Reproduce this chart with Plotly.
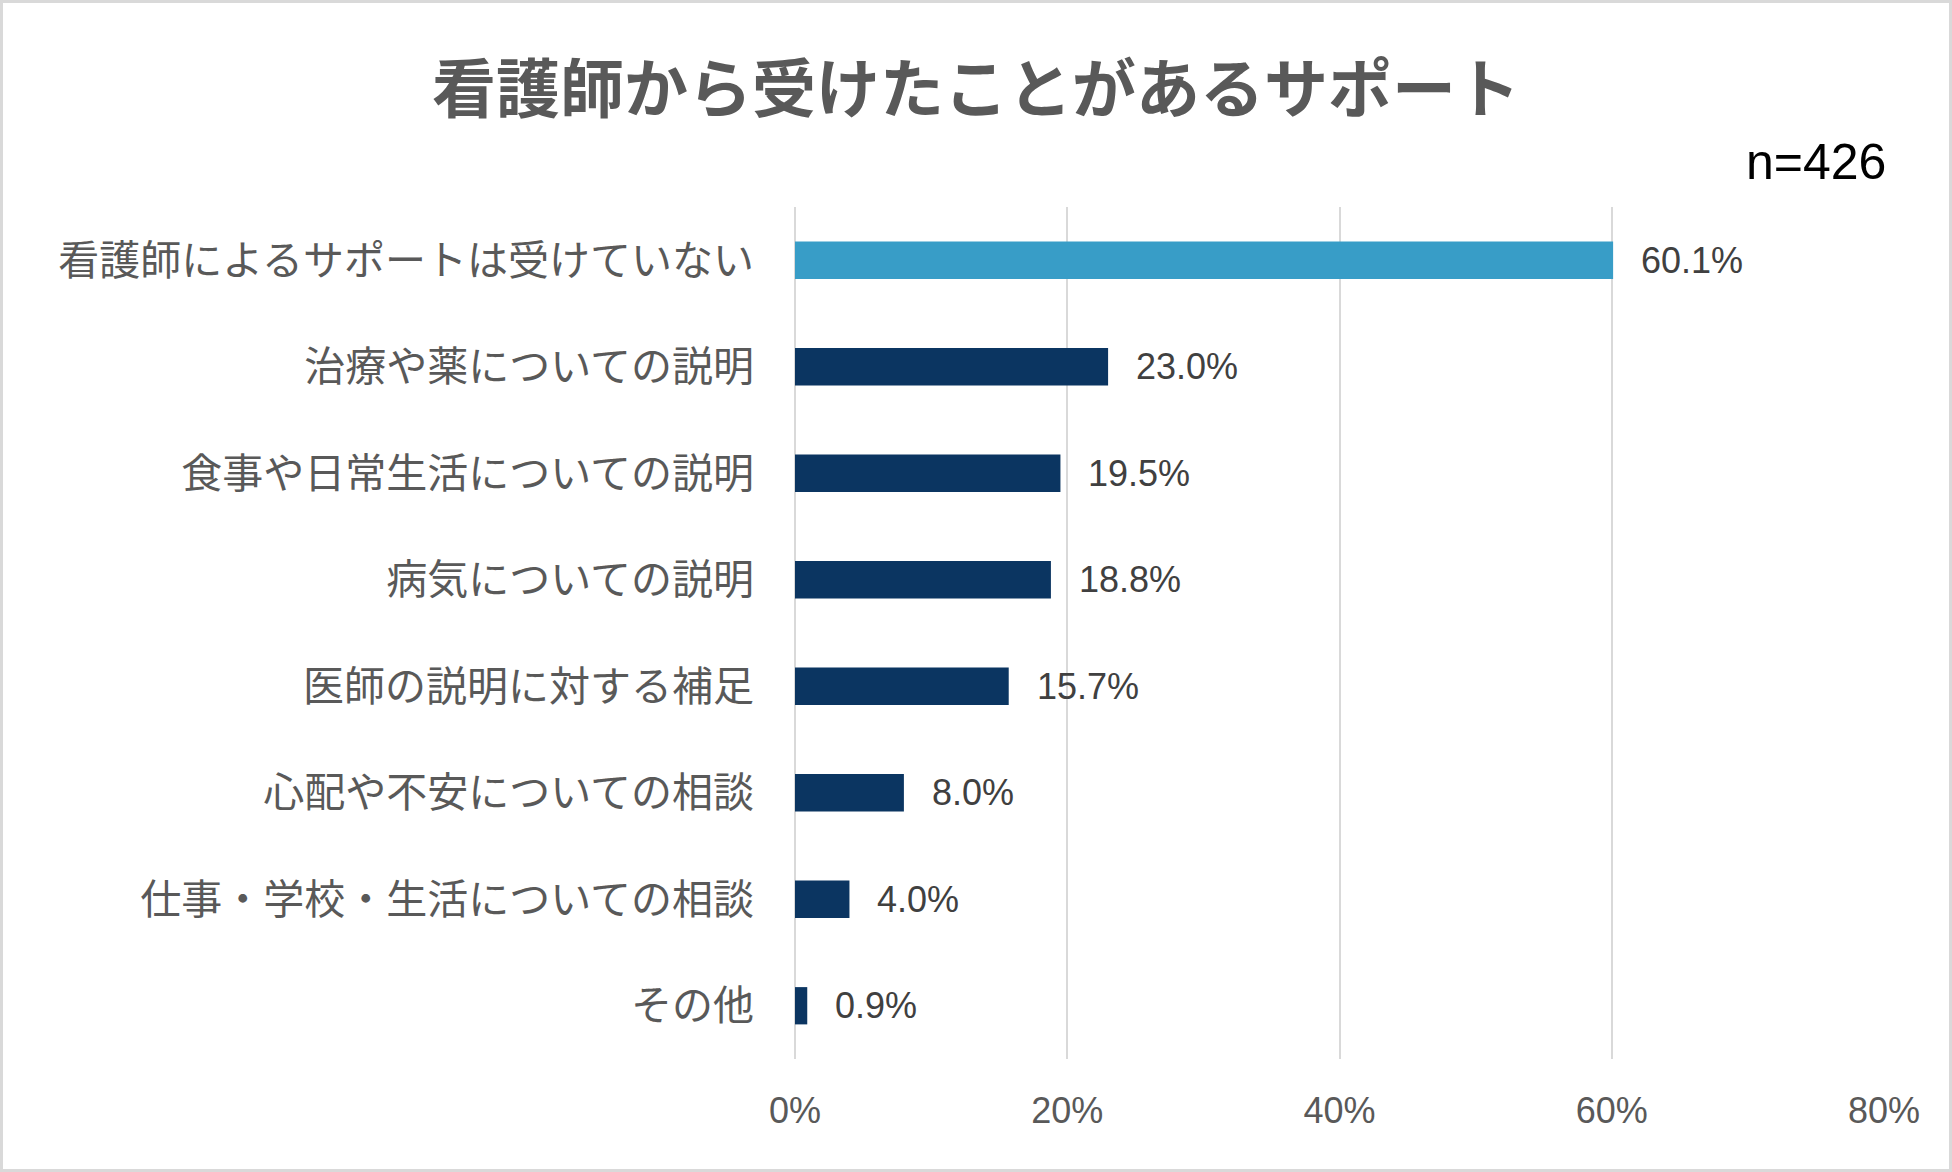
import plotly.graph_objects as go

categories = [
    "看護師によるサポートは受けていない",
    "治療や薬についての説明",
    "食事や日常生活についての説明",
    "病気についての説明",
    "医師の説明に対する補足",
    "心配や不安についての相談",
    "仕事・学校・生活についての相談",
    "その他",
]
values = [60.1, 23.0, 19.5, 18.8, 15.7, 8.0, 4.0, 0.9]
bar_colors = ["#389DC7"] + ["#0B3561"] * 7
x_ticks = [0, 20, 40, 60, 80]
x_tick_labels = ["0%", "20%", "40%", "60%", "80%"]
title_text = "看護師から受けたことがあるサポート"
n_text = "n=426"

W, H = 1952, 1172
ML, MR, MT, MB = 795, 68, 207, 113
PW, PH = W - ML - MR, H - MT - MB

fig = go.Figure(go.Bar(
    x=values, y=categories, orientation="h",
    marker=dict(color=bar_colors, line=dict(width=0)),
    hoverinfo="skip",
))

for c, v in zip(categories, values):
    fig.add_annotation(
        x=v, y=c, xref="x", yref="y", text=f"{v:.1f}%",
        showarrow=False, xanchor="left", xshift=26,
        font=dict(family="Liberation Sans, Arial", size=36, color="#404040"),
    )

fig.add_annotation(
    x=(W / 2 - ML) / PW, y=1, xref="paper", yref="paper", text=f"<b>{title_text}</b>",
    showarrow=False, xanchor="center", yanchor="middle",
    yshift=MT - 84,
    font=dict(family="Noto Sans CJK JP", size=64, color="#595959"),
)
fig.add_annotation(
    x=1, y=1, xref="paper", yref="paper", text=n_text,
    showarrow=False, xanchor="right", yanchor="middle",
    yshift=MT - 162, xshift=4,
    font=dict(family="Liberation Sans, Arial", size=50, color="#000000"),
)

fig.add_shape(
    type="rect", xref="paper", yref="paper",
    x0=(1.5 - ML) / PW, x1=(W - 1.5 - ML) / PW,
    y0=(MT + PH - (H - 1.5)) / PH, y1=(MT + PH - 1.5) / PH,
    line=dict(color="#D9D9D9", width=3), layer="below",
)

fig.update_layout(
    width=W, height=H,
    margin=dict(l=ML, r=MR, t=MT, b=MB, pad=0),
    paper_bgcolor="white", plot_bgcolor="white",
    bargap=0.65, showlegend=False,
    xaxis=dict(
        range=[0, 80], tickvals=x_ticks, ticktext=x_tick_labels,
        showgrid=True, gridcolor="#D9D9D9", gridwidth=2,
        zeroline=True, zerolinecolor="#D9D9D9", zerolinewidth=2,
        showline=False, ticks="", ticklabelstandoff=27,
        tickfont=dict(family="Liberation Sans Narrow, Liberation Sans, Arial", size=36, color="#595959"),
        fixedrange=True,
    ),
    yaxis=dict(
        autorange="reversed", showgrid=False, zeroline=False, showline=False,
        ticks="", ticklabelstandoff=40,
        tickfont=dict(family="Noto Sans CJK JP", size=41, color="#595959"),
        fixedrange=True,
    ),
)

fig.write_html("out.html")
